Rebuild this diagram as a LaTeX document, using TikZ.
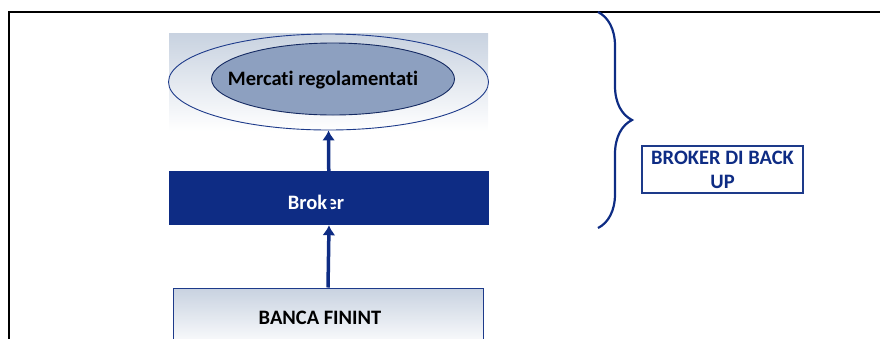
\documentclass[tikz,border=0pt]{standalone}
\usepackage{fontspec}
\setmainfont{Carlito}[Ligatures=NoCommon]
\usetikzlibrary{shapes.geometric, decorations.pathreplacing, arrows.meta}
\definecolor{finblue}{HTML}{0E2C84}
\definecolor{finline}{HTML}{1D3A8A}
\definecolor{finfill}{HTML}{8DA0C0}
\definecolor{finshade}{HTML}{C8D2E0}

\tikzset{
  ell/.style={ellipse, draw=finline, line width=0.9pt, inner sep=0pt},
  txt/.style={font=\bfseries\fontsize{20.5}{24}\selectfont},
  flow/.style={->, finblue, line width=3.5pt},
}

\begin{document}
\begin{tikzpicture}[x=1pt,y=-1pt,>={Latex[width=13pt,length=10pt]}]
    \useasboundingbox (0,0) rectangle (880,338);

    % draw the frame
    \draw[line width=1.5pt] (9,350) -- (9,12) -- (890,12);

    % markets with the shaded background
    \fill[top color=finshade, bottom color=white] (169,33) rectangle (488,131);
    \node[ell, minimum width=320pt, minimum height=96pt] (outer) at (328.5,82) {};
    \node[ell, fill=finfill, draw=finline!70!black, minimum width=243pt, minimum height=72pt] (inner) at (333,79) {};
    \node[txt] (mercati) at (323,80) {Mercati regolamentati};

    % broker
    \node[rectangle, fill=finblue, minimum width=320pt, minimum height=54pt, inner sep=0pt] (broker) at (329,198) {};
    \node[txt, text=white] (brokertxt) at (316,202) {Broker};

    % banca
    \node[rectangle, draw=finline, line width=1pt, top color=finshade, bottom color=white,
          minimum width=310pt, minimum height=60pt, inner sep=0pt] (banca) at (328,318) {};
    \node[txt] (bancatxt) at (320,318) {BANCA FININT};

    % arrows
    \draw[flow] ([yshift=-11pt]broker.center) -- (outer.south);
    \draw[flow] (banca.north) -- (broker.south);

    % brace and back up box
    \coordinate (bracetop) at (598,12);
    \coordinate (bracebot) at (598,228);
    \draw[finblue, line width=2.2pt, decorate, decoration={brace, amplitude=34pt}] (bracetop) -- (bracebot);
    \node[txt, draw=finline, line width=1.2pt, text=finblue, align=center, inner sep=0pt,
          minimum width=161pt, minimum height=47pt] (backup) at (722.5,169.5) {BROKER DI BACK\\UP};
\end{tikzpicture}
\end{document}
